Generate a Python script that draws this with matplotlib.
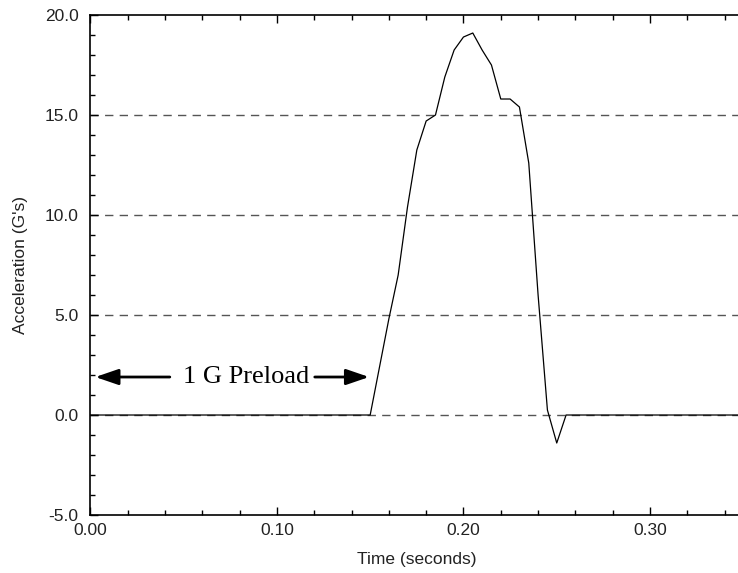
import matplotlib
matplotlib.use("Agg")
import matplotlib.pyplot as plt
from matplotlib.ticker import MultipleLocator, FormatStrFormatter

# Data
time_s = [0.000, 0.150, 0.155, 0.160, 0.165, 0.170, 0.175, 0.180, 0.185, 0.190,
          0.195, 0.200, 0.205, 0.210, 0.215, 0.220, 0.225, 0.230, 0.235, 0.240,
          0.245, 0.250, 0.255, 0.350]
accel_g = [0.0, 0.0, 2.4, 4.8, 7.0, 10.4, 13.25, 14.7, 15.0, 16.9,
           18.25, 18.9, 19.1, 18.25, 17.5, 15.8, 15.8, 15.4, 12.6, 6.0,
           0.25, -1.4, 0.0, 0.0]
grid_levels = [0.0, 5.0, 10.0, 15.0]
annotation_text = "1 G Preload"
annotation_level = 1.9
left_arrow = (0.0426, 0.0027)   # tail, tip (time)
right_arrow = (0.1203, 0.1494)  # tail, tip (time)

fig = plt.figure(figsize=(7.38, 5.73), dpi=100)
ax = fig.add_axes([0.1224, 0.1012, 0.8848, 0.8726])

for g in grid_levels:
    ax.axhline(g, color="#555555", lw=1.0, dashes=(6, 4.5), zorder=1)

ax.plot(time_s, accel_g, color="black", lw=0.9, zorder=3)

ax.set_xlim(0.0, 0.35)
ax.set_ylim(-5.0, 20.0)

ax.xaxis.set_major_locator(MultipleLocator(0.10))
ax.xaxis.set_minor_locator(MultipleLocator(0.02))
ax.yaxis.set_major_locator(MultipleLocator(5.0))
ax.yaxis.set_minor_locator(MultipleLocator(1.0))
ax.xaxis.set_major_formatter(FormatStrFormatter("%.2f"))
ax.yaxis.set_major_formatter(FormatStrFormatter("%.1f"))

ax.tick_params(which="both", direction="in", top=True, right=False,
               width=1.0, colors="black")
ax.tick_params(which="major", length=6)
ax.tick_params(which="minor", length=3.5)
ax.tick_params(axis="x", which="major", pad=6, labelsize=12.5, labelcolor="#222222")
ax.tick_params(axis="y", which="major", pad=8.5, labelsize=12.5, labelcolor="#222222")
for lbl in ax.get_xticklabels() + ax.get_yticklabels():
    lbl.set_fontfamily("Liberation Sans")

for side in ["left", "bottom", "top"]:
    ax.spines[side].set_linewidth(1.2)
ax.spines["right"].set_visible(False)

ax.set_xlabel("Time (seconds)", fontsize=12.5, family="Liberation Sans",
              labelpad=10, color="#222222")
ax.set_ylabel("Acceleration (G's)", fontsize=12.5, family="Liberation Sans",
              labelpad=12, color="#222222")

ax.text(0.0834, annotation_level, annotation_text, family="Liberation Serif",
        fontsize=19, ha="center", va="center", zorder=4)

astyle = "-|>,head_length=0.7,head_width=0.24"
for tail, tip in [left_arrow, right_arrow]:
    ax.annotate("", xy=(tip, annotation_level), xytext=(tail, annotation_level),
                arrowprops=dict(arrowstyle=astyle, mutation_scale=20, lw=2.0,
                                color="black", shrinkA=0, shrinkB=0), zorder=4)

fig.savefig("out.png", dpi=100)
